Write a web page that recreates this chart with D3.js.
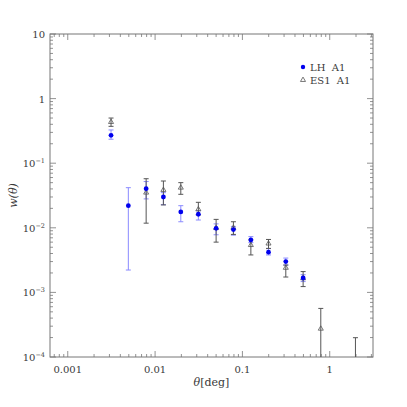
<!DOCTYPE html>
<html>
<head>
<meta charset="utf-8">
<script src="https://cdn.jsdelivr.net/npm/d3@7"></script>
<style>
  body { margin: 0; background: #fff; }
  svg text { font-family: "DejaVu Serif", "Liberation Serif", serif; fill: #3a3a3a; }
</style>
</head>
<body>
<svg id="chart" width="407" height="407"></svg>
<script>
// angular bins (deg)
const thetaLH = [0.00313, 0.00494, 0.0079, 0.01245, 0.0197, 0.0313, 0.05, 0.0789, 0.125, 0.199, 0.314, 0.496];
const wLH     = [0.27, 0.022, 0.0403, 0.030, 0.0176, 0.0162, 0.0098, 0.0094, 0.0065, 0.0042, 0.0030, 0.00167];
const hiLH    = [0.327, 0.0418, 0.052, 0.035, 0.022, 0.0184, 0.0115, 0.0105, 0.0073, 0.00475, 0.0034, 0.00188];
const loLH    = [0.235, 0.00222, 0.028, 0.0228, 0.0124, 0.0132, 0.0078, 0.0077, 0.0059, 0.0038, 0.00265, 0.00147];

const thetaES = [0.00313, 0.0079, 0.01245, 0.0197, 0.0313, 0.05, 0.0789, 0.125, 0.199, 0.314, 0.496, 0.79, 1.97];
const wES     = [0.434, 0.035, 0.0385, 0.0418, 0.0193, 0.0099, 0.010, 0.0054, 0.0057, 0.0024, 0.00165, 0.000274, null];
const hiES    = [0.50, 0.0575, 0.053, 0.050, 0.0248, 0.0135, 0.0124, 0.0065, 0.0066, 0.00265, 0.0021, 0.000565, 0.000199];
const loES    = [0.372, 0.0118, 0.0226, 0.033, 0.0158, 0.006, 0.0079, 0.0038, 0.0048, 0.00173, 0.00123, null, null];

const xTicks = [0.001, 0.01, 0.1, 1];
const yTicks = [10, 1, 0.1, 0.01, 0.001, 0.0001];
const yTickLabels = [["10", ""], ["1", ""], ["10", "\u22121"], ["10", "\u22122"], ["10", "\u22123"], ["10", "\u22124"]];
const legendNames = ["LH A1", "ES1 A1"];

const margin = {left: 50, right: 34, top: 34, bottom: 50};
const W = 407, H = 407;
const svg = d3.select("#chart");

const x = d3.scaleLog().domain([0.000626, 3.13]).range([margin.left, W - margin.right]);
const y = d3.scaleLog().domain([1e-4, 10]).range([H - margin.bottom, margin.top]);

const frameColor = "#777";

// minor tick values
function minors(lo, hi) {
    const out = [];
    for (let e = Math.floor(Math.log10(lo)); e <= Math.ceil(Math.log10(hi)); e++) {
        for (let m = 1; m < 10; m++) {
            const v = m * Math.pow(10, e);
            if (v >= lo && v <= hi) out.push(v);
        }
    }
    return out;
}

const axes = svg.append("g");
const x0 = x.range()[0], x1 = x.range()[1];
const y0 = y.range()[0], y1 = y.range()[1];

// x ticks, bottom and top, pointing inward
minors(0.000626, 3.13).forEach(v => {
    const len = xTicks.includes(+v.toPrecision(3)) ? 6 : 3;
    axes.append("line").attr("x1", x(v)).attr("x2", x(v)).attr("y1", y0).attr("y2", y0 - len);
    axes.append("line").attr("x1", x(v)).attr("x2", x(v)).attr("y1", y1).attr("y2", y1 + len);
});
minors(1e-4, 10).forEach(v => {
    const len = yTicks.includes(+v.toPrecision(3)) ? 6 : 3;
    axes.append("line").attr("y1", y(v)).attr("y2", y(v)).attr("x1", x0).attr("x2", x0 + len);
    axes.append("line").attr("y1", y(v)).attr("y2", y(v)).attr("x1", x1).attr("x2", x1 - len);
});
axes.selectAll("line").attr("stroke", frameColor).attr("stroke-width", 0.8);

axes.append("rect")
    .attr("x", x0).attr("y", y1)
    .attr("width", x1 - x0).attr("height", y0 - y1)
    .attr("fill", "none").attr("stroke", frameColor).attr("stroke-width", 1);

// tick labels
svg.append("g").selectAll("text").data(xTicks).join("text")
    .attr("x", d => x(d)).attr("y", y0 + 16)
    .attr("text-anchor", "middle").attr("font-size", 10)
    .text(d => d);

const yl = svg.append("g").selectAll("text").data(yTicks).join("text")
    .attr("x", x0 - 5).attr("y", d => y(d) + 4)
    .attr("text-anchor", "end").attr("font-size", 10);
yl.each(function(d, i) {
    const t = d3.select(this);
    const [base, exp] = yTickLabels[i];
    if (exp) {
        t.append("tspan").text(base);
        t.append("tspan").attr("dy", -4).attr("font-size", 6.5).text(exp);
    } else {
        t.text(base);
    }
});

// axis titles
const xt = svg.append("text").attr("x", (x0 + x1) / 2).attr("y", 386)
    .attr("text-anchor", "middle").attr("font-size", 11);
xt.append("tspan").attr("font-style", "italic").text("\u03b8");
xt.append("tspan").text("[deg]");

const ytt = svg.append("text").attr("transform", `translate(17,${(y0 + y1) / 2}) rotate(-90)`)
    .attr("text-anchor", "middle").attr("font-size", 11).attr("font-style", "italic");
ytt.text("w(\u03b8)");

// error bars
const plot = svg.append("g");
const clipLo = 1e-4;
function errorBars(thetas, his, los, color) {
    const g = plot.append("g").attr("stroke", color).attr("stroke-width", 1);
    thetas.forEach((t, i) => {
        const top = y(his[i]);
        const bot = los[i] === null ? y(clipLo) : y(los[i]);
        g.append("line").attr("x1", x(t)).attr("x2", x(t)).attr("y1", top).attr("y2", bot);
        g.append("line").attr("x1", x(t) - 2.5).attr("x2", x(t) + 2.5).attr("y1", top).attr("y2", top);
        if (los[i] !== null)
            g.append("line").attr("x1", x(t) - 2.5).attr("x2", x(t) + 2.5).attr("y1", bot).attr("y2", bot);
    });
}
errorBars(thetaLH, hiLH, loLH, "#8a8aff");
errorBars(thetaES, hiES, loES, "#555");

const tri = d3.symbol().type(d3.symbolTriangle).size(11);

plot.append("g").selectAll("path")
    .data(thetaES.map((t, i) => [t, wES[i]]).filter(d => d[1] !== null))
    .join("path")
    .attr("d", tri)
    .attr("transform", d => `translate(${x(d[0])},${y(d[1])})`)
    .attr("fill", "none").attr("stroke", "#555").attr("stroke-width", 0.8);

plot.append("g").selectAll("circle")
    .data(thetaLH.map((t, i) => [t, wLH[i]]))
    .join("circle")
    .attr("cx", d => x(d[0])).attr("cy", d => y(d[1])).attr("r", 2.4)
    .attr("fill", "#0000ee");

// legend
const lg = svg.append("g");
lg.append("circle").attr("cx", 303).attr("cy", 67).attr("r", 2.2).attr("fill", "#0000ee");
lg.append("path").attr("d", tri).attr("transform", "translate(303,80)")
    .attr("fill", "none").attr("stroke", "#555").attr("stroke-width", 0.8);
lg.selectAll("text").data(legendNames).join("text")
    .attr("x", 310).attr("y", (d, i) => 71 + i * 13)
    .attr("font-size", 10).attr("xml:space", "preserve")
    .text(d => d.replace(" ", "  "));
</script>
</body>
</html>
